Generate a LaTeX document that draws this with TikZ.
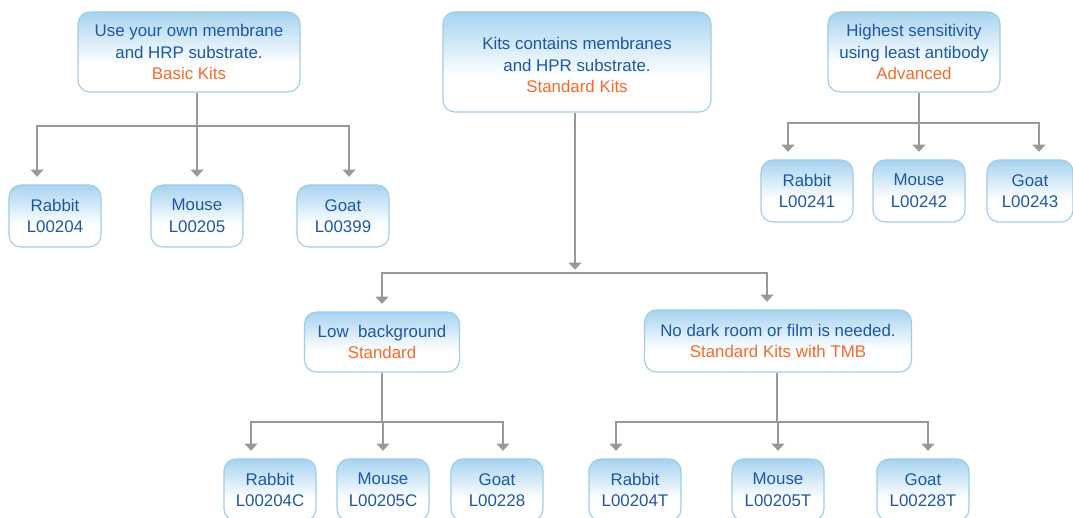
\documentclass[tikz,border=0pt]{standalone}
\usepackage{fontspec}
\setmainfont{Liberation Sans}
\usetikzlibrary{arrows.meta}
\usepackage{xcolor}

\definecolor{kitblue}{HTML}{1D57A6}
\definecolor{kitorange}{HTML}{F26A2C}
\definecolor{boxedge}{HTML}{9FCDE4}
\definecolor{boxtop}{HTML}{A6D3F0}
\definecolor{linegray}{HTML}{999999}

% sombreado: blanco abajo, azul claro arriba
\pgfdeclareverticalshading{kitshade}{100bp}{color(0bp)=(white); color(43bp)=(white); color(75bp)=(boxtop); color(100bp)=(boxtop)}

\tikzset{
  kitbox/.style={draw=boxedge, line width=0.8pt, rounded corners=0.3cm, shade, shading=kitshade,
    align=center, text=kitblue, inner sep=0pt, font=\fontsize{12}{15.3}\selectfont},
  leaf/.style={kitbox, minimum width=2.3cm, minimum height=1.55cm},
  trunk/.style={draw=linegray, line width=1.1pt},
  conn/.style={trunk, -{Triangle[width=0.32cm,length=0.18cm]}, shorten >=0.19cm}
}

\begin{document}
\begin{tikzpicture}[x=0.025cm,y=-0.025cm]
  \useasboundingbox (0,0) rectangle (1073,518);
  \clip (0,0) rectangle (1073,518);

  % Cajas principales
  \node[kitbox, minimum width=5.55cm, minimum height=2cm] (basic) at (189,52)
    {Use your own membrane\\and HRP substrate.\\\textcolor{kitorange}{Basic Kits}};
  \node[kitbox, minimum width=6.7cm, minimum height=2.5cm] (std) at (577,62)
    {\rule{0pt}{13pt}Kits contains membranes\\and HPR substrate.\\\textcolor{kitorange}{Standard Kits}};
  \node[kitbox, minimum width=4.3cm, minimum height=2cm] (adv) at (914,52)
    {Highest sensitivity\\using least antibody\\\textcolor{kitorange}{Advanced}};
  \node[kitbox, minimum width=3.875cm, minimum height=1.5cm] (low) at (382,342)
    {Low\ \ background\\\textcolor{kitorange}{Standard}};
  \node[kitbox, minimum width=6.675cm, minimum height=1.55cm] (dark) at (778,341)
    {No dark room or film is needed.\\\textcolor{kitorange}{Standard Kits with TMB}};

  % Hojas
  \foreach \nm/\x/\y/\txt in {rabbitA/55/216/{Rabbit\\L00204}, mouseA/197/216/{Mouse\\L00205},
      goatA/343/216/{Goat\\L00399}, rabbitB/807/191/{Rabbit\\L00241}, mouseB/919/191/{Mouse\\L00242},
      rabbitC/270/490/{Rabbit\\L00204C}, mouseC/383/490/{Mouse\\L00205C}, goatC/497/490/{Goat\\L00228},
      rabbitD/635/490/{Rabbit\\L00204T}, mouseD/778/490/{Mouse\\L00205T}, goatD/923/490/{Goat\\L00228T}}
    \node[leaf] (\nm) at (\x,\y) {\txt};
  \node[leaf, minimum width=2.15cm] (goatB) at (1030,191) {Goat\\L00243};

  % Ramas de Basic Kits
  \coordinate (splitA) at (197,126);
  \draw[trunk] (basic.south -| splitA) -- (splitA);
  \foreach \kid/\dx in {rabbitA/-0.45,mouseA/0,goatA/0.15}
    \draw[conn] (splitA) -| ([xshift=\dx cm]\kid.north);

  % Ramas de Advanced
  \coordinate (splitB) at (919,123);
  \draw[trunk] (adv.south -| splitB) -- (splitB);
  \foreach \kid/\dx in {rabbitB/-0.475,mouseB/0,goatB/0.225}
    \draw[conn] (splitB) -| ([xshift=\dx cm]\kid.north);

  % Ramas de Standard Kits
  \coordinate (splitS) at (575,273);
  \draw[conn, shorten >=0.08cm] (std.south -| splitS) -- (splitS);
  \foreach \kid/\dx in {low/0,dark/-0.275}
    \draw[conn] (splitS) -| ([xshift=\dx cm]\kid.north);

  % Ramas de Standard
  \coordinate (splitC) at (382,422);
  \draw[trunk] (low.south -| splitC) -- (splitC);
  \foreach \kid/\dx in {rabbitC/-0.475,mouseC/0,goatC/0.15}
    \draw[conn] (splitC) -| ([xshift=\dx cm]\kid.north);

  % Ramas de Standard Kits with TMB
  \coordinate (splitD) at (777,422);
  \draw[trunk] (dark.south -| splitD) -- (splitD);
  \foreach \kid/\dx in {rabbitD/-0.475,mouseD/0,goatD/0.125}
    \draw[conn] (splitD) -| ([xshift=\dx cm]\kid.north);
\end{tikzpicture}
\end{document}
